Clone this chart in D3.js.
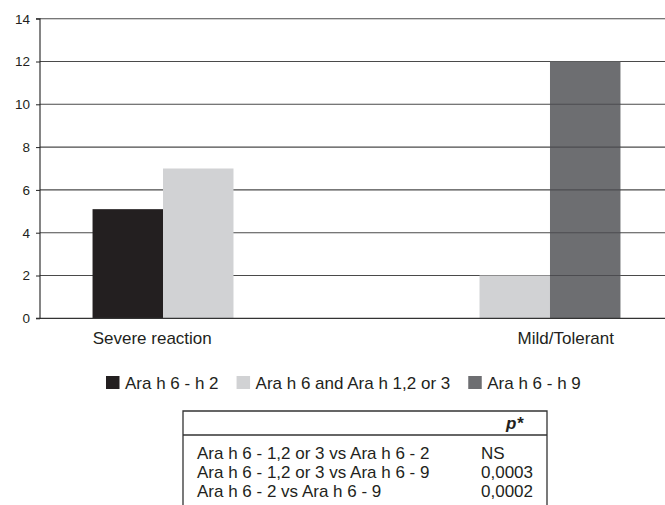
<!DOCTYPE html>
<html>
<head>
<meta charset="utf-8">
<script src="https://cdn.jsdelivr.net/npm/d3@7"></script>
<style>
  html, body { margin: 0; padding: 0; background: #fff; }
  svg { display: block; font-family: "Liberation Sans", Arial, Helvetica, sans-serif; }
</style>
</head>
<body>
<svg id="chart" width="665" height="505"></svg>
<script>
// ---- data ----
const categories = ["Severe reaction", "Mild/Tolerant"];
const seriesNames = ["Ara h 6 - h 2", "Ara h 6 and Ara h 1,2 or 3", "Ara h 6 - h 9"];
const seriesH2  = [5.1, 0];
const seriesH123 = [7, 2];
const seriesH9  = [0, 12];
const yTicks = [0, 2, 4, 6, 8, 10, 12, 14];
const tableHeader = ["", "p*"];
const tableComparisons = ["Ara h 6 - 1,2 or 3 vs Ara h 6 - 2", "Ara h 6 - 1,2 or 3 vs Ara h 6 - 9", "Ara h 6 - 2 vs Ara h 6 - 9"];
const tablePValues = ["NS", "0,0003", "0,0002"];

const colors = ["#231f20", "#d1d2d4", "#6d6e71"];
const seriesValues = [seriesH2, seriesH123, seriesH9];

(function () {
const svg = d3.select("#chart");
const FS = "17px";

const pLeft = 40, pRight = 673, pTop = 18.7, pBottom = 318.3;
const y = d3.scaleLinear().domain([0, 14]).range([pBottom, pTop]);
const x0 = d3.scaleBand().domain(categories).range([pLeft, pRight]);
const bw = x0.bandwidth();
const gap = bw * 0.166;
const x1 = d3.scaleBand().domain(seriesNames).range([gap, bw - gap]);

// gridlines (behind bars)
svg.append("g").selectAll("line").data(yTicks.filter(d => d > 0)).join("line")
  .attr("x1", pLeft).attr("x2", 665)
  .attr("y1", d => y(d)).attr("y2", d => y(d))
  .attr("stroke", "#4a4a4a").attr("stroke-width", 1.1);

// bars
const rows = [];
categories.forEach((c, ci) => {
  seriesNames.forEach((s, si) => {
    rows.push({ cat: c, ser: s, si, v: seriesValues[si][ci] });
  });
});
svg.append("g").selectAll("rect").data(rows.filter(d => d.v > 0)).join("rect")
  .attr("x", d => x0(d.cat) + x1(d.ser))
  .attr("width", x1.bandwidth())
  .attr("y", d => y(d.v))
  .attr("height", d => y(0) - y(d.v))
  .attr("fill", d => colors[d.si]);

// gridlines visible through the dark bar
rows.filter(d => d.si === 2 && d.v > 0).forEach(d => {
  svg.append("g").selectAll("line").data(yTicks.filter(t => t > 0 && t < d.v)).join("line")
    .attr("x1", x0(d.cat) + x1(d.ser)).attr("x2", x0(d.cat) + x1(d.ser) + x1.bandwidth())
    .attr("y1", t => y(t)).attr("y2", t => y(t))
    .attr("stroke", "#4c4c50").attr("stroke-width", 1.1);
});

// baseline
svg.append("line").attr("x1", pLeft).attr("x2", 665)
  .attr("y1", y(0)).attr("y2", y(0)).attr("stroke", "#333").attr("stroke-width", 1.2);

// y axis
const yAxis = d3.axisLeft(y).tickValues(yTicks).tickSize(4).tickPadding(6).tickFormat(d3.format("d"));
const gy = svg.append("g").attr("transform", `translate(${pLeft},0)`).call(yAxis);
gy.select(".domain").attr("stroke", "#222").attr("stroke-width", 1.1).attr("d", `M-4,${pTop}H0V${pBottom}H-4`);
gy.selectAll(".tick line").attr("stroke", "#222");
gy.selectAll(".tick text").attr("fill", "#231f20").style("font-size", "13.5px")
  .style("font-family", "'Liberation Sans', Arial, sans-serif");

// category labels
const labelShift = [-46, 51];
svg.append("g").selectAll("text").data(categories).join("text")
  .attr("x", (d, i) => x0(d) + bw / 2 + labelShift[i])
  .attr("y", 344)
  .attr("text-anchor", "middle")
  .attr("fill", "#231f20")
  .style("font-size", FS)
  .text(d => d);

// legend
const lg = svg.append("g");
let lx = 106;
seriesNames.forEach((s, i) => {
  lg.append("rect").attr("x", lx).attr("y", 376).attr("width", 13.5).attr("height", 13)
    .attr("fill", colors[i]);
  const t = lg.append("text").attr("x", lx + 19).attr("y", 389)
    .attr("fill", "#231f20").style("font-size", FS).text(s);
  lx = lx + 19 + t.node().getComputedTextLength() + 18;
});

// table
const tg = svg.append("g");
const tl = 183, tr = 547, tt = 411, tsep = 435;
tg.append("path").attr("d", `M${tl},505V${tt}H${tr}V505`)
  .attr("fill", "none").attr("stroke", "#333").attr("stroke-width", 1.3);
tg.append("line").attr("x1", tl).attr("x2", tr).attr("y1", tsep).attr("y2", tsep)
  .attr("stroke", "#333").attr("stroke-width", 1.3);
tg.append("text").attr("x", 506).attr("y", 429)
  .attr("fill", "#231f20").style("font-size", FS)
  .style("font-weight", "bold").style("font-style", "italic")
  .text(tableHeader[1]);
tg.selectAll("text.cmp").data(tableComparisons).join("text").attr("class", "cmp")
  .attr("x", 197).attr("y", (d, i) => 459 + i * 19)
  .attr("fill", "#231f20").style("font-size", FS).text(d => d);
tg.selectAll("text.pv").data(tablePValues).join("text").attr("class", "pv")
  .attr("x", 481).attr("y", (d, i) => 459 + i * 19)
  .attr("fill", "#231f20").style("font-size", FS).text(d => d);
})();
</script>
</body>
</html>
